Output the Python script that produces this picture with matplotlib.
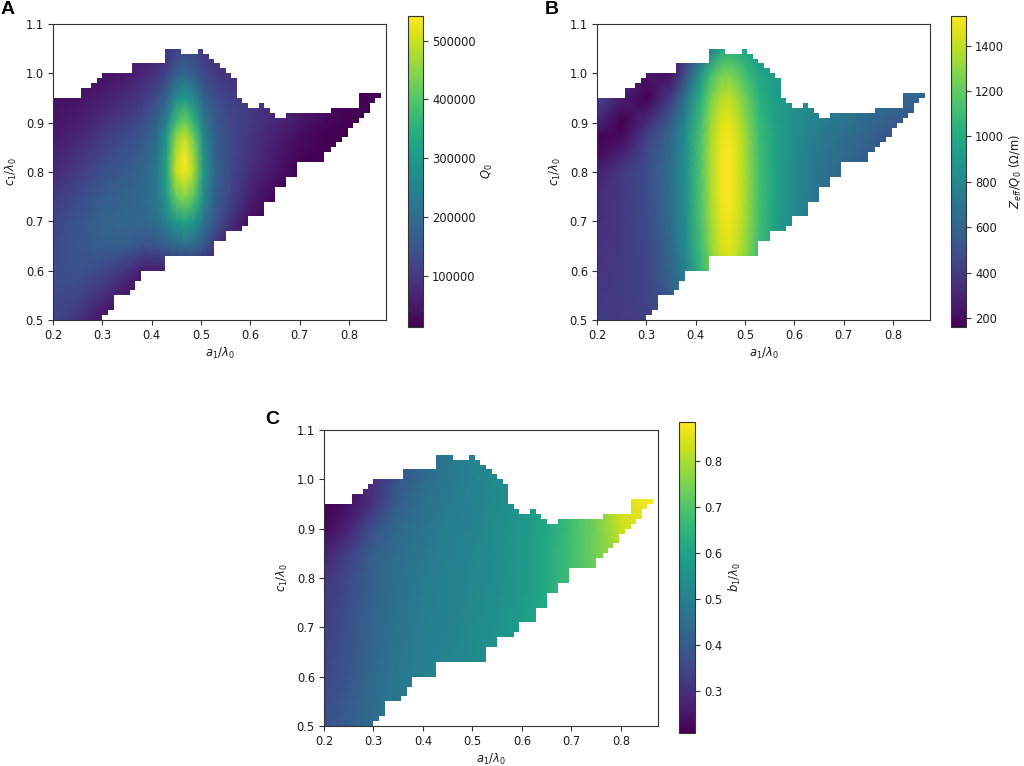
import matplotlib
matplotlib.use("Agg")
import matplotlib.pyplot as plt
import numpy as np
from matplotlib.path import Path

# outline of the valid region (a edges and the c value of each step)
top_edges = [0.2, 0.256, 0.278, 0.289, 0.30, 0.36, 0.427, 0.46, 0.494, 0.505, 0.516, 0.527, 0.539,
             0.55, 0.561, 0.572, 0.583, 0.595, 0.617, 0.628, 0.639, 0.65, 0.673, 0.763, 0.82, 0.865]
top_c = [0.95, 0.97, 0.98, 0.99, 1.00, 1.02, 1.05, 1.04, 1.05, 1.04, 1.03, 1.02,
         1.01, 1.00, 0.99, 0.95, 0.94, 0.93, 0.94, 0.93, 0.92, 0.91, 0.92, 0.93, 0.96]
bottom_edges = [0.2, 0.30, 0.311, 0.323, 0.356, 0.367, 0.378, 0.427, 0.527, 0.55, 0.583, 0.595, 0.628,
                0.65, 0.673, 0.695, 0.75, 0.763, 0.774, 0.785, 0.797, 0.808, 0.82, 0.831, 0.842, 0.853, 0.865]
bottom_c = [0.50, 0.51, 0.52, 0.55, 0.56, 0.58, 0.60, 0.63, 0.66, 0.68, 0.69, 0.71,
            0.74, 0.77, 0.79, 0.82, 0.84, 0.85, 0.86, 0.87, 0.89, 0.90, 0.91, 0.92, 0.94, 0.95]

grid_a = [0.2, 0.25, 0.3, 0.35, 0.38, 0.41, 0.43, 0.45, 0.467, 0.485, 0.505, 0.53, 0.56, 0.6, 0.65, 0.7, 0.75, 0.8, 0.87]
grid_c = [0.50, 0.55, 0.60, 0.65, 0.70, 0.75, 0.80, 0.83, 0.87, 0.90, 0.95, 1.00, 1.05]

# Q0 in thousands
q0_k = [
    [125, 90, 35, 20, 15, 15, 15, 15, 15, 15, 15, 15, 15, 15, 15, 15, 15, 15, 15],
    [130, 125, 85, 40, 25, 20, 20, 20, 20, 20, 20, 20, 15, 15, 15, 15, 15, 15, 15],
    [135, 145, 130, 90, 55, 55, 60, 70, 75, 70, 60, 40, 20, 15, 15, 15, 15, 15, 15],
    [130, 155, 170, 165, 150, 150, 170, 190, 200, 190, 160, 90, 50, 20, 15, 15, 15, 15, 15],
    [120, 150, 180, 190, 190, 205, 250, 300, 320, 290, 220, 150, 90, 30, 15, 15, 15, 15, 15],
    [100, 130, 165, 180, 190, 220, 300, 420, 450, 400, 270, 170, 120, 60, 20, 15, 15, 15, 15],
    [75, 105, 140, 165, 180, 220, 320, 500, 530, 470, 290, 180, 130, 80, 40, 15, 15, 15, 15],
    [62, 90, 125, 150, 170, 215, 320, 490, 540, 460, 280, 175, 130, 90, 50, 20, 15, 15, 15],
    [50, 70, 105, 135, 155, 200, 290, 450, 500, 420, 260, 170, 130, 95, 60, 30, 15, 15, 15],
    [42, 55, 85, 115, 135, 175, 250, 380, 430, 360, 230, 160, 125, 100, 70, 45, 25, 15, 15],
    [35, 40, 55, 80, 100, 135, 180, 270, 300, 260, 180, 135, 115, 100, 75, 50, 30, 18, 15],
    [30, 35, 35, 50, 70, 90, 120, 170, 185, 165, 130, 100, 90, 80, 70, 50, 30, 20, 15],
    [30, 35, 35, 40, 50, 65, 85, 120, 130, 120, 100, 85, 80, 70, 60, 50, 30, 20, 15],
]

# Zeff/Q0 in ohm per metre
zeff = [
    [390, 400, 410, 520, 650, 850, 1000, 1150, 1250, 1200, 1100, 950, 800, 700, 600, 550, 500, 500, 500],
    [380, 400, 430, 560, 720, 950, 1150, 1300, 1350, 1300, 1150, 1000, 850, 720, 620, 550, 500, 500, 500],
    [370, 390, 440, 600, 780, 1050, 1230, 1370, 1420, 1360, 1230, 1050, 900, 760, 640, 560, 500, 500, 500],
    [360, 390, 450, 620, 820, 1100, 1290, 1430, 1470, 1410, 1280, 1090, 930, 790, 660, 570, 500, 500, 500],
    [350, 390, 470, 640, 840, 1130, 1320, 1470, 1500, 1440, 1300, 1110, 950, 800, 670, 590, 520, 500, 500],
    [330, 390, 480, 650, 850, 1150, 1340, 1490, 1520, 1450, 1310, 1110, 960, 810, 680, 600, 530, 500, 500],
    [290, 380, 480, 650, 860, 1150, 1350, 1490, 1525, 1450, 1310, 1110, 960, 810, 690, 610, 540, 480, 480],
    [200, 310, 470, 640, 850, 1150, 1350, 1490, 1520, 1450, 1300, 1100, 960, 820, 700, 630, 560, 480, 460],
    [170, 200, 420, 620, 840, 1140, 1340, 1480, 1510, 1440, 1290, 1090, 960, 830, 720, 650, 590, 500, 480],
    [300, 165, 330, 570, 800, 1100, 1310, 1450, 1480, 1410, 1260, 1070, 950, 840, 740, 680, 620, 560, 500],
    [450, 280, 165, 400, 690, 1030, 1240, 1370, 1400, 1330, 1200, 1030, 930, 850, 760, 700, 660, 620, 600],
    [500, 400, 230, 220, 500, 850, 1100, 1220, 1250, 1190, 1080, 960, 900, 850, 760, 700, 660, 620, 600],
    [550, 450, 300, 250, 350, 600, 720, 950, 1020, 1000, 950, 900, 850, 800, 760, 700, 660, 620, 600],
]

b1_a = [0.2, 0.25, 0.3, 0.35, 0.4, 0.45, 0.5, 0.55, 0.6, 0.65, 0.7, 0.75, 0.8, 0.87]
b1_c = [0.5, 0.6, 0.7, 0.8, 0.85, 0.9, 0.95, 1.0, 1.05]
b1 = [
    [.38, .41, .45, .48, .50, .52, .53, .55, .58, .60, .62, .64, .66, .68],
    [.35, .39, .44, .48, .50, .52, .53, .55, .58, .60, .62, .64, .66, .68],
    [.33, .38, .43, .47, .50, .51, .53, .55, .58, .62, .65, .68, .70, .72],
    [.31, .36, .42, .46, .49, .51, .52, .54, .57, .62, .68, .73, .76, .78],
    [.27, .34, .41, .45, .48, .50, .52, .54, .57, .62, .68, .74, .80, .84],
    [.22, .28, .38, .44, .47, .50, .51, .54, .57, .61, .68, .74, .83, .87],
    [.21, .24, .31, .41, .46, .49, .51, .53, .56, .61, .68, .75, .84, .885],
    [.21, .24, .30, .39, .44, .48, .51, .53, .56, .61, .68, .75, .84, .885],
    [.21, .24, .30, .38, .43, .48, .51, .53, .56, .61, .68, .75, .84, .885],
]

WIDTH, HEIGHT = 1024, 766
TICK_SIZE = 8.3
EDGE = "#333333"


def box(left, top, right, bottom):
    """Pixel box from the top-left corner to figure fractions."""
    return [left / WIDTH, 1 - bottom / HEIGHT, (right - left) / WIDTH, (bottom - top) / HEIGHT]


def region_path():
    top_x = np.repeat(top_edges, 2)[1:-1]
    top_y = np.repeat(top_c, 2)
    bot_x = np.repeat(bottom_edges, 2)[1:-1]
    bot_y = np.repeat(bottom_c, 2)
    xs = np.concatenate([top_x, bot_x[::-1]])
    ys = np.concatenate([top_y, bot_y[::-1]])
    verts = np.column_stack([np.append(xs, xs[0]), np.append(ys, ys[0])])
    return Path(verts, closed=True)


def panel(fig, ax_box, cax_box, letter, letter_xy, a, c, values, vmin, vmax, cticks, clabel):
    ax = fig.add_axes(box(*ax_box))
    xx, yy = np.meshgrid(a, c)
    mesh = ax.pcolormesh(xx, yy, np.array(values, dtype=float), shading="gouraud",
                         cmap="viridis", vmin=vmin, vmax=vmax)
    mesh.set_clip_path(region_path(), ax.transData)
    ax.set_xlim(0.2, 0.875)
    ax.set_ylim(0.5, 1.1)
    ax.set_xticks([0.2, 0.3, 0.4, 0.5, 0.6, 0.7, 0.8])
    ax.set_yticks([0.5, 0.6, 0.7, 0.8, 0.9, 1.0, 1.1])
    ax.tick_params(labelsize=TICK_SIZE, pad=3, color=EDGE, labelcolor="#1a1a1a")
    ax.set_xlabel(r"$a_1/\lambda_0$", fontsize=TICK_SIZE, labelpad=3, color="#1a1a1a")
    ax.set_ylabel(r"$c_1/\lambda_0$", fontsize=TICK_SIZE, labelpad=5, color="#1a1a1a")
    for spine in ax.spines.values():
        spine.set_edgecolor(EDGE)

    cax = fig.add_axes(box(*cax_box))
    cbar = fig.colorbar(mesh, cax=cax)
    cbar.set_ticks(cticks)
    cbar.ax.tick_params(labelsize=TICK_SIZE, pad=3, color=EDGE, labelcolor="#1a1a1a")
    cbar.set_label(clabel, fontsize=TICK_SIZE, labelpad=3, color="#1a1a1a")
    cbar.outline.set_edgecolor(EDGE)

    fig.text(letter_xy[0] / WIDTH, 1 - letter_xy[1] / HEIGHT, letter, fontsize=14,
             fontweight="bold", family="Liberation Sans", va="center", ha="left")


fig = plt.figure(figsize=(WIDTH / 100, HEIGHT / 100), dpi=100)

panel(fig, (53, 24, 386, 320), (408, 16, 423, 327), "A", (1, 10), grid_a, grid_c,
      np.array(q0_k) * 1000, 13000, 542000,
      [100000, 200000, 300000, 400000, 500000], r"$Q_0$")
panel(fig, (597, 24, 930, 320), (951, 16, 966, 327), "B", (545, 10), grid_a, grid_c, zeff,
      160, 1530, [200, 400, 600, 800, 1000, 1200, 1400], r"$Z_{eff}/Q_0$ ($\Omega$/m)")
panel(fig, (324, 430, 658, 726), (679, 422, 695, 733), "C", (265, 420), b1_a, b1_c, b1,
      0.209, 0.885, [0.3, 0.4, 0.5, 0.6, 0.7, 0.8], r"$b_1/\lambda_0$")

fig.savefig("out.png", dpi=100)
